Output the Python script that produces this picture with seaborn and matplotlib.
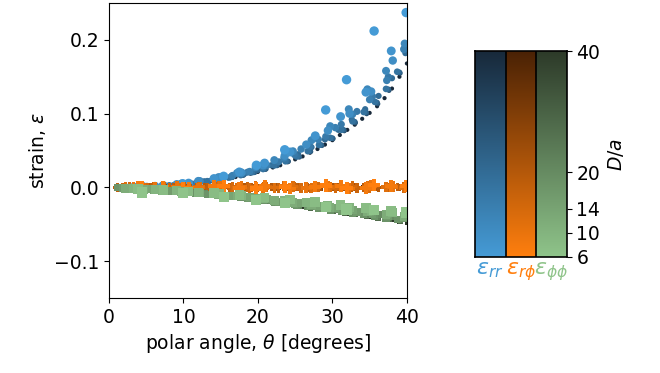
import numpy as np
import pandas as pd
import matplotlib
matplotlib.use("Agg")
import matplotlib.pyplot as plt
from matplotlib.colors import LinearSegmentedColormap
import seaborn as sns

# ---- measured strain components, grouped by separation D/a ----
da_values = [6, 8, 10, 12, 14, 16, 18, 20, 22, 28, 40]

theta_6 = [4.5, 9.9, 15.4, 19.8, 23.6, 29.1, 31.9, 35.6, 39.9]
rr_6 = [0.0010, 0.0050, 0.0150, 0.0300, 0.0510, 0.1050, 0.1460, 0.2120, 0.2370]
rp_6 = [0.0010, -0.0010, 0.0020, -0.0015, 0.0010, 0.0025, -0.0010, 0.0030, 0.0015]
pp_6 = [-0.0070, -0.0080, -0.0130, -0.0165, -0.0210, -0.0270, -0.0300, -0.0310, -0.0340]

theta_8 = [3.9, 7.3, 10.7, 14.1, 17.5, 20.9, 24.3, 27.7, 31.1, 34.5, 37.9]
rr_8 = [0.0008, 0.0025, 0.0058, 0.0120, 0.0210, 0.0330, 0.0480, 0.0700, 0.0960, 0.1290, 0.1850]
rp_8 = [0.0005, 0.0012, -0.0010, 0.0015, -0.0008, 0.0020, -0.0015, 0.0010, 0.0022, -0.0012, 0.0018]
pp_8 = [-0.0020, -0.0038, -0.0055, -0.0078, -0.0105, -0.0135, -0.0165, -0.0200, -0.0240, -0.0280, -0.0320]

theta_10 = [3.3, 6.2, 9.1, 12.0, 14.9, 17.8, 20.7, 23.6, 26.5, 29.4, 32.3, 35.2, 38.1]
rr_10 = [0.0005, 0.0018, 0.0042, 0.0085, 0.0135, 0.0200, 0.0300, 0.0430, 0.0580, 0.0770, 0.1000, 0.1300, 0.1720]
rp_10 = [0.0004, -0.0008, 0.0010, -0.0012, 0.0015, 0.0006, -0.0010, 0.0018, -0.0006, 0.0012, -0.0015, 0.0020, 0.0008]
pp_10 = [-0.0015, -0.0030, -0.0046, -0.0066, -0.0088, -0.0115, -0.0148, -0.0178, -0.0210, -0.0245, -0.0275, -0.0310, -0.0335]

theta_12 = [2.2, 4.7, 7.2, 9.7, 12.2, 14.7, 17.2, 19.7, 22.2, 24.7, 27.2, 29.7, 32.2, 34.7, 37.2, 39.7]
rr_12 = [0.0003, 0.0011, 0.0024, 0.0050, 0.0086, 0.0138, 0.0195, 0.0272, 0.0370, 0.0490, 0.0640, 0.0830,
         0.1060, 0.1330, 0.1580, 0.1950]
rp_12 = [0.0004, -0.0007, 0.0010, -0.0012, 0.0006, 0.0013, -0.0009, 0.0011, -0.0005, 0.0014, -0.0011, 0.0008,
         -0.0013, 0.0012, 0.0006, -0.0010]
pp_12 = [-0.0014, -0.0026, -0.0040, -0.0058, -0.0076, -0.0096, -0.0118, -0.0146, -0.0176, -0.0208, -0.0240,
         -0.0270, -0.0302, -0.0334, -0.0365, -0.0398]

theta_14 = [2.8, 5.1, 7.4, 9.7, 12.0, 14.3, 16.6, 18.9, 21.2, 23.5, 25.8, 28.1, 30.4, 32.7, 35.0, 37.3, 39.6]
rr_14 = [0.0002, 0.0012, 0.0024, 0.0046, 0.0075, 0.0118, 0.0160, 0.0215, 0.0300, 0.0400,
         0.0520, 0.0650, 0.0810, 0.0990, 0.1190, 0.1450, 0.1870]
rp_14 = [0.0003, -0.0006, 0.0008, -0.0010, 0.0012, -0.0004, 0.0009, -0.0012, 0.0006, 0.0014,
         -0.0008, 0.0010, -0.0012, 0.0016, -0.0006, 0.0012, -0.0010]
pp_14 = [-0.0013, -0.0027, -0.0039, -0.0057, -0.0073, -0.0091, -0.0112, -0.0134, -0.0162, -0.0190,
         -0.0218, -0.0248, -0.0280, -0.0306, -0.0338, -0.0362, -0.0398]

theta_16 = [1.8, 3.9, 6.0, 8.1, 10.2, 12.3, 14.4, 16.5, 18.6, 20.7, 22.8, 24.9, 27.0, 29.1, 31.2, 33.3,
            35.4, 37.5, 39.6]
rr_16 = [0.0000, 0.0006, 0.0012, 0.0025, 0.0050, 0.0077, 0.0113, 0.0153, 0.0206, 0.0272, 0.0347, 0.0444,
         0.0555, 0.0690, 0.0855, 0.1030, 0.1235, 0.1500, 0.1880]
rp_16 = [0.0003, -0.0005, 0.0007, -0.0008, 0.0010, -0.0004, 0.0008, -0.0010, 0.0005, 0.0011, -0.0007, 0.0009,
         -0.0011, 0.0006, 0.0012, -0.0008, 0.0010, -0.0006, 0.0009]
pp_16 = [-0.0008, -0.0021, -0.0033, -0.0046, -0.0065, -0.0081, -0.0098, -0.0117, -0.0140, -0.0166, -0.0195,
         -0.0223, -0.0252, -0.0280, -0.0309, -0.0337, -0.0365, -0.0394, -0.0422]

theta_18 = [1.2, 2.7, 4.2, 5.7, 7.2, 8.7, 10.2, 11.7, 13.2, 14.7, 16.2, 17.7, 19.2, 20.7, 22.2, 23.7,
            25.2, 26.7, 28.2, 29.7, 31.2, 32.7, 34.2, 35.7, 37.2, 38.7]
rr_18 = [0.0000, 0.0002, 0.0006, 0.0010, 0.0017, 0.0029, 0.0045, 0.0062, 0.0084, 0.0108, 0.0134, 0.0166,
         0.0205, 0.0249, 0.0298, 0.0354, 0.0419, 0.0491, 0.0575, 0.0672, 0.0782, 0.0895, 0.1022, 0.1159,
         0.1335, 0.1568]
rp_18 = [0.0001, -0.0003, 0.0004, -0.0004, 0.0005, -0.0002, 0.0006, -0.0005, 0.0003, 0.0006, -0.0004, 0.0005,
         -0.0006, 0.0002, 0.0007, -0.0005, 0.0004, -0.0006, 0.0005, 0.0003, -0.0007, 0.0006, -0.0003, 0.0005,
         -0.0006, 0.0004]
pp_18 = [-0.0006, -0.0014, -0.0024, -0.0034, -0.0043, -0.0055, -0.0069, -0.0081, -0.0094, -0.0108, -0.0122,
         -0.0135, -0.0156, -0.0178, -0.0200, -0.0221, -0.0243, -0.0264, -0.0286, -0.0307, -0.0329, -0.0351,
         -0.0372, -0.0395, -0.0416, -0.0438]

theta_20 = [2.0, 3.8, 5.6, 7.4, 9.2, 11.0, 12.8, 14.6, 16.4, 18.2, 20.0, 21.8, 23.6, 25.4, 27.2,
            29.0, 30.8, 32.6, 34.4, 36.2, 38.0, 39.8]
rr_20 = [0.0000, 0.0006, 0.0011, 0.0020, 0.0036, 0.0057, 0.0083, 0.0110, 0.0145, 0.0186, 0.0238,
         0.0300, 0.0375, 0.0450, 0.0545, 0.0650, 0.0780, 0.0920, 0.1060, 0.1240, 0.1480, 0.1820]
rp_20 = [0.0002, -0.0004, 0.0006, -0.0005, 0.0008, -0.0006, 0.0004, 0.0009, -0.0008, 0.0005, -0.0003,
         0.0010, -0.0007, 0.0006, -0.0009, 0.0008, 0.0004, -0.0010, 0.0007, -0.0005, 0.0009, -0.0006]
pp_20 = [-0.0009, -0.0020, -0.0031, -0.0042, -0.0055, -0.0068, -0.0083, -0.0098, -0.0116, -0.0134, -0.0156,
         -0.0180, -0.0204, -0.0228, -0.0250, -0.0276, -0.0300, -0.0322, -0.0345, -0.0368, -0.0392, -0.0416]

theta_22 = [1.5, 3.0, 4.5, 6.0, 7.5, 9.0, 10.5, 12.0, 13.5, 15.0, 16.5, 18.0, 19.5, 21.0, 22.5, 24.0,
            25.5, 27.0, 28.5, 30.0, 31.5, 33.0, 34.5, 36.0, 37.5, 39.0]
rr_22 = [0.0000, 0.0004, 0.0008, 0.0012, 0.0020, 0.0033, 0.0048, 0.0066, 0.0088, 0.0112, 0.0138, 0.0170,
         0.0205, 0.0252, 0.0300, 0.0356, 0.0418, 0.0492, 0.0575, 0.0668, 0.0780, 0.0890, 0.1020, 0.1150,
         0.1330, 0.1560]
rp_22 = [0.0001, -0.0003, 0.0004, -0.0002, 0.0003, -0.0004, 0.0002, 0.0005, -0.0003, 0.0002, -0.0005, 0.0004,
         0.0001, -0.0003, 0.0005, -0.0002, 0.0003, -0.0004, 0.0002, 0.0004, -0.0003, 0.0005, -0.0002, 0.0003,
         -0.0004, 0.0002]
pp_22 = [-0.0007, -0.0016, -0.0026, -0.0035, -0.0045, -0.0057, -0.0070, -0.0083, -0.0096, -0.0109, -0.0124,
         -0.0140, -0.0158, -0.0180, -0.0203, -0.0224, -0.0245, -0.0266, -0.0288, -0.0310, -0.0332, -0.0352,
         -0.0374, -0.0395, -0.0416, -0.0438]

theta_28 = [1.6, 3.1, 4.6, 6.1, 7.6, 9.1, 10.6, 12.1, 13.6, 15.1, 16.6, 18.1, 19.6, 21.1, 22.6, 24.1,
            25.6, 27.1, 28.6, 30.1, 31.6, 33.1, 34.6, 36.1, 37.6, 39.1]
rr_28 = [0.0000, 0.0003, 0.0007, 0.0010, 0.0018, 0.0032, 0.0047, 0.0063, 0.0086, 0.0108, 0.0135, 0.0166,
         0.0204, 0.0248, 0.0294, 0.0351, 0.0412, 0.0485, 0.0567, 0.0660, 0.0767, 0.0875, 0.0998, 0.1133,
         0.1314, 0.1548]
rp_28 = [0.0001, -0.0002, 0.0002, -0.0001, 0.0003, -0.0002, 0.0001, 0.0003, -0.0002, 0.0002, -0.0003, 0.0001,
         0.0002, -0.0002, 0.0003, -0.0001, 0.0002, -0.0003, 0.0001, 0.0003, -0.0002, 0.0002, -0.0001, 0.0003,
         -0.0002, 0.0001]
pp_28 = [-0.0008, -0.0018, -0.0028, -0.0037, -0.0047, -0.0060, -0.0074, -0.0087, -0.0100, -0.0115, -0.0130,
         -0.0147, -0.0164, -0.0189, -0.0211, -0.0234, -0.0256, -0.0279, -0.0301, -0.0323, -0.0346, -0.0368,
         -0.0390, -0.0413, -0.0435, -0.0457]

theta_40 = [1, 2, 3, 4, 5, 6, 7, 8, 9, 10, 11, 12, 13, 14, 15, 16, 17, 18, 19, 20,
            21, 22, 23, 24, 25, 26, 27, 28, 29, 30, 31, 32, 33, 34, 35, 36, 37, 38, 39, 40]
rr_40 = [0.0000, 0.0000, 0.0003, 0.0005, 0.0008, 0.0010, 0.0015, 0.0020, 0.0030, 0.0040,
         0.0050, 0.0060, 0.0075, 0.0090, 0.0105, 0.0120, 0.0140, 0.0160, 0.0185, 0.0210,
         0.0240, 0.0270, 0.0300, 0.0340, 0.0380, 0.0420, 0.0470, 0.0520, 0.0580, 0.0640,
         0.0710, 0.0780, 0.0850, 0.0930, 0.1010, 0.1100, 0.1210, 0.1340, 0.1500, 0.1680]
rp_40 = [0.0000, 0.0002, -0.0002, 0.0001, 0.0000, -0.0001, 0.0002, 0.0000, -0.0002, 0.0001,
         0.0000, 0.0002, -0.0001, 0.0000, 0.0001, -0.0002, 0.0000, 0.0002, 0.0000, -0.0001,
         0.0001, 0.0000, -0.0002, 0.0002, 0.0000, -0.0001, 0.0001, 0.0000, 0.0002, -0.0002,
         0.0000, 0.0001, -0.0001, 0.0000, 0.0002, 0.0000, -0.0002, 0.0001, 0.0000, -0.0001]
pp_40 = [-0.0005, -0.0010, -0.0017, -0.0024, -0.0030, -0.0037, -0.0044, -0.0050, -0.0060, -0.0070,
         -0.0078, -0.0087, -0.0096, -0.0105, -0.0115, -0.0125, -0.0135, -0.0148, -0.0160, -0.0175,
         -0.0190, -0.0205, -0.0220, -0.0235, -0.0250, -0.0265, -0.0280, -0.0295, -0.0310, -0.0325,
         -0.0340, -0.0355, -0.0370, -0.0385, -0.0400, -0.0415, -0.0430, -0.0445, -0.0460, -0.0475]

cbar_ticks = [6, 10, 14, 20, 40]
component_labels = [r"$\varepsilon_{rr}$", r"$\varepsilon_{r\phi}$", r"$\varepsilon_{\phi\phi}$"]

groups = {
    6: (theta_6, rr_6, rp_6, pp_6),
    8: (theta_8, rr_8, rp_8, pp_8),
    10: (theta_10, rr_10, rp_10, pp_10),
    12: (theta_12, rr_12, rp_12, pp_12),
    14: (theta_14, rr_14, rp_14, pp_14),
    16: (theta_16, rr_16, rp_16, pp_16),
    18: (theta_18, rr_18, rp_18, pp_18),
    20: (theta_20, rr_20, rp_20, pp_20),
    22: (theta_22, rr_22, rp_22, pp_22),
    28: (theta_28, rr_28, rp_28, pp_28),
    40: (theta_40, rr_40, rp_40, pp_40),
}

# long table; largest separations first so the small-D/a markers sit on top
rows = []
for da in sorted(da_values, reverse=True):
    th, rr, rp, pp = groups[da]
    for t, a, b, c in zip(th, rr, rp, pp):
        rows.append({"theta": t, "D/a": da, "rr": a, "rp": b, "pp": c})
df = pd.DataFrame(rows)

# ---- colour maps: light (small D/a) -> dark (large D/a) ----
cmap_rr = LinearSegmentedColormap.from_list("rr", ["#459bd6", "#18293a"])
cmap_rp = LinearSegmentedColormap.from_list("rp", ["#ff7f0e", "#4a2205"])
cmap_pp = LinearSegmentedColormap.from_list("pp", ["#8fc48a", "#2d3a29"])
cmaps = [cmap_rr, cmap_rp, cmap_pp]
label_colors = ["#459bd6", "#ff7f0e", "#8fc48a"]

marker_area = {6: 46, 8: 41, 10: 37, 12: 33, 14: 29, 16: 26, 18: 23, 20: 20, 22: 17, 28: 13, 40: 9}

plt.rcParams["font.family"] = ["DejaVu Sans"]
plt.rcParams["mathtext.fontset"] = "dejavusans"

fig = plt.figure(figsize=(6.6, 3.73), dpi=100)
ax = fig.add_axes([0.165, 0.201, 0.4515, 0.791])

for col, cmap, marker, scale in [("rr", cmap_rr, "o", 1.0),
                                 ("rp", cmap_rp, "P", 1.7),
                                 ("pp", cmap_pp, "s", 1.15)]:
    sizes = {k: v * scale for k, v in marker_area.items()}
    sns.scatterplot(data=df, x="theta", y=col, hue="D/a", palette=cmap, hue_norm=(6, 40),
                    size="D/a", sizes=sizes, marker=marker, linewidth=0, legend=False, ax=ax)

ax.set_xlim(0, 40)
ax.set_ylim(-0.15, 0.25)
ax.set_xticks([0, 10, 20, 30, 40])
ax.set_yticks([-0.1, 0.0, 0.1, 0.2])
ax.set_xlabel(r"polar angle, $\theta$ [degrees]", fontsize=13.5)
ax.set_ylabel(r"strain, $\varepsilon$", fontsize=13.5)
ax.tick_params(labelsize=13.5)

# ---- three-column colour bar ----
cax = fig.add_axes([0.7197, 0.311, 0.139, 0.552])
grad = np.linspace(6, 40, 256).reshape(-1, 1)
for i, cmap in enumerate(cmaps):
    cax.imshow(grad, cmap=cmap, vmin=6, vmax=40, extent=[i, i + 1, 6, 40],
               origin="lower", aspect="auto")
for xv in [1, 2]:
    cax.axvline(xv, color="black", lw=1.2)
cax.set_xlim(0, 3)
cax.set_ylim(6, 40)
cax.yaxis.tick_right()
cax.yaxis.set_label_position("right")
cax.set_yticks(cbar_ticks)
cax.set_ylabel(r"$D/a$", fontsize=13.5, rotation=90, labelpad=4)
cax.tick_params(axis="y", labelsize=13.5)
cax.set_xticks([0.5, 1.5, 2.5])
cax.set_xticklabels(component_labels, fontsize=16)
cax.tick_params(axis="x", length=0, pad=2)
for lbl, c in zip(cax.get_xticklabels(), label_colors):
    lbl.set_color(c)
for sp in cax.spines.values():
    sp.set_linewidth(1.2)

fig.savefig("out.png", dpi=100)
